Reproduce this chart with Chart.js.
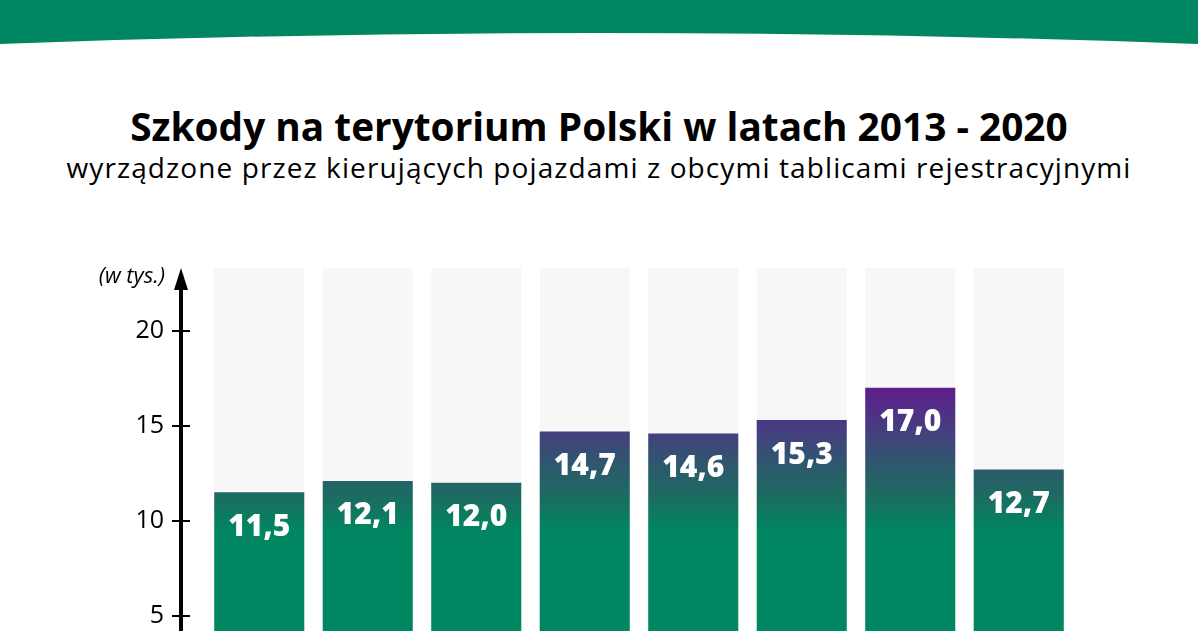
<!DOCTYPE html>
<html lang="pl">
<head>
<meta charset="utf-8">
<script src="https://cdn.jsdelivr.net/npm/chart.js@4/dist/chart.umd.min.js"></script>
<style>
  html, body { margin: 0; padding: 0; background: #fff; overflow: hidden; }
  #page { position: relative; width: 1198px; height: 631px; overflow: hidden; font-family: "Open Sans", sans-serif; }
  #banner { position: absolute; left: 0; top: 0; }
  #title { position: absolute; left: 0; width: 1198px; top: 107px; text-align: center;
           font-size: 38.8px; font-weight: 700; color: #000; line-height: 1; white-space: nowrap; }
  #subtitle { position: absolute; left: 0; width: 1198px; top: 153px; text-align: center;
              font-size: 28px; font-weight: 400; letter-spacing: 1.1px; color: #000; line-height: 1; white-space: nowrap; }
  #barChart { position: absolute; left: 0; top: 0; }
</style>
</head>
<body>
<div id="page">
  <svg id="banner" width="1198" height="50"><path d="M0,0 H1198 V44 Q599,22 0,44 Z" fill="#008660"/></svg>
  <div id="title">Szkody na terytorium Polski w latach 2013 - 2020</div>
  <div id="subtitle">wyrządzone przez kierujących pojazdami z obcymi tablicami rejestracyjnymi</div>
  <canvas id="barChart" width="1198" height="759"></canvas>
</div>
<script>
// dane (w tys.)
var years = ['2013', '2014', '2015', '2016', '2017', '2018', '2019', '2020'];
var claims = [11.5, 12.1, 12.0, 14.7, 14.6, 15.3, 17.0, 12.7];
var yTicks = [5, 10, 15, 20];
var yMax = 23.3;
var track = years.map(function(){ return yMax; });

// gradient liczony wg osi Y (fiolet u góry, zieleń na dole)
function barGradient(ctx){
  var chart = ctx.chart;
  if (!chart.chartArea) return '#008660';
  var y = chart.scales.y;
  var g = chart.ctx.createLinearGradient(0, y.getPixelForValue(17), 0, y.getPixelForValue(9.5));
  g.addColorStop(0, '#5d1e8b');
  g.addColorStop(0.3, '#453f7f');
  g.addColorStop(0.57, '#2b5b6b');
  g.addColorStop(0.75, '#1d6a62');
  g.addColorStop(1, '#008660');
  return g;
}

// oś Y ze strzałką + kreski
var axisPlugin = {
  id: 'axisArrow',
  afterDraw: function(chart){
    var c = chart.ctx, y = chart.scales.y, a = chart.chartArea;
    var ax = a.left - 24;
    c.save();
    c.strokeStyle = '#000';
    c.fillStyle = '#000';
    c.lineWidth = 4;
    c.beginPath();
    c.moveTo(ax, a.top + 14);
    c.lineTo(ax, a.bottom);
    c.stroke();
    c.beginPath();
    c.moveTo(ax, a.top);
    c.lineTo(ax - 7, a.top + 22);
    c.lineTo(ax + 7, a.top + 22);
    c.closePath();
    c.fill();
    c.lineWidth = 2;
    yTicks.forEach(function(v){
      var py = Math.round(y.getPixelForValue(v));
      c.beginPath();
      c.moveTo(ax - 9, py);
      c.lineTo(ax + 9, py);
      c.stroke();
    });
    c.font = 'italic 22px "Open Sans"';
    c.textAlign = 'right';
    c.textBaseline = 'middle';
    c.fillText('(w tys.)', ax - 16, a.top + 9);
    c.restore();
  }
};

// etykiety wartości w słupkach
var valuePlugin = {
  id: 'values',
  afterDatasetsDraw: function(chart){
    var c = chart.ctx;
    var meta = chart.getDatasetMeta(1);
    c.save();
    c.fillStyle = '#fff';
    c.font = '800 30px "Open Sans"';
    c.textAlign = 'center';
    c.textBaseline = 'middle';
    meta.data.forEach(function(bar, i){
      c.fillText(claims[i].toFixed(1).replace('.', ','), bar.x, bar.y + 35);
    });
    c.restore();
  }
};

var ctx = document.getElementById('barChart').getContext('2d');
var chart = new Chart(ctx, {
  type: 'bar',
  data: {
    labels: years,
    datasets: [{
      data: track,
      backgroundColor: '#f7f7f7',
      order: 2
    }, {
      data: claims,
      backgroundColor: barGradient,
      order: 1
    }]
  },
  options: {
    responsive: false,
    animation: false,
    datasets: { bar: { grouped: false, barPercentage: 0.83, categoryPercentage: 1 } },
    layout: { padding: { left: 100, right: 125, top: 268, bottom: 0 } },
    plugins: { legend: { display: false }, tooltip: { enabled: false } },
    scales: {
      x: { display: false },
      y: {
        min: 0,
        max: yMax,
        grid: { display: false },
        border: { display: false },
        afterFit: function(s){ s.width = 105; },
        ticks: {
          stepSize: 5,
          includeBounds: false,
          padding: 33,
          color: '#000',
          font: { family: 'Open Sans', size: 25 },
          callback: function(v){ return v === 0 ? '' : v; }
        }
      }
    }
  },
  plugins: [axisPlugin, valuePlugin]
});
</script>
</body>
</html>
